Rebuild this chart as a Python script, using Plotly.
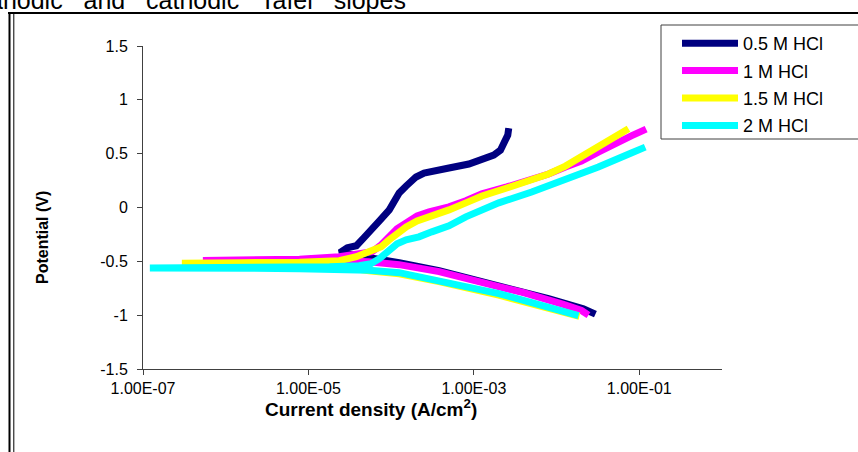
import plotly.graph_objects as go

# ---------------- data ----------------
series_names = ["0.5 M HCl", "1 M HCl", "1.5 M HCl", "2 M HCl"]
series_colors = ["#000080", "#FF00FF", "#FFFF00", "#00FFFF"]

# 0.5 M HCl : current density (A/cm2) and potential (V)
i_05 = [2.95e-2, 2.11e-2, 8.0e-3, 2.0e-3, 3.8e-4, 1.25e-4, 5.4e-5, 3.1e-5, 2.4e-5,
        2.95e-5, 3.8e-5, 4.7e-5, 5.9e-5, 7.4e-5, 9.5e-5, 1.25e-4, 1.52e-4, 2.0e-4,
        2.5e-4, 3.1e-4, 5.0e-4, 8.7e-4, 1.25e-3, 1.74e-3, 2.1e-3, 2.36e-3, 2.57e-3, 2.64e-3]
e_05 = [-0.99, -0.94, -0.846, -0.726, -0.587, -0.513, -0.467, -0.439, -0.42,
        -0.374, -0.355, -0.28, -0.207, -0.115, -0.022, 0.135, 0.2, 0.283,
        0.32, 0.339, 0.367, 0.404, 0.441, 0.487, 0.533, 0.598, 0.672, 0.737]

# 1 M HCl
i_1 = [2.43e-2, 2.0e-2, 1.21e-2, 8.0e-3, 4.0e-3, 2.0e-3, 8.0e-4, 3.8e-4, 1.25e-4, 5.4e-5,
       2.36e-5, 7.8e-6, 1.95e-6, 5.3e-7, 1.95e-6, 7.8e-6, 2.36e-5, 4.1e-5, 5.9e-5,
       7.6e-5, 9.5e-5, 1.18e-4, 1.52e-4, 2.06e-4, 2.87e-4, 3.8e-4, 5.0e-4, 8.0e-4,
       1.25e-3, 2.5e-3, 5.0e-3, 8.0e-3, 1.28e-2, 2.0e-2, 3.2e-2, 5.1e-2, 8.0e-2, 0.121]
e_1 = [-1.0, -0.957, -0.9, -0.856, -0.79, -0.735, -0.661, -0.596, -0.531, -0.504,
       -0.494, -0.494, -0.494, -0.492, -0.485, -0.48, -0.457, -0.439, -0.411,
       -0.346, -0.272, -0.198, -0.143, -0.078, -0.041, -0.022, 0.006, 0.062,
       0.126, 0.191, 0.256, 0.311, 0.376, 0.432, 0.515, 0.598, 0.665, 0.728]

# 1.5 M HCl
i_15 = [1.89e-2, 8.0e-3, 2.0e-3, 3.8e-4, 1.25e-4, 5.4e-5, 3.1e-5, 1.8e-5, 5.9e-6, 1.48e-6,
        2.95e-7, 1.48e-6, 7.8e-6, 2.36e-5, 3.8e-5, 5.9e-5, 7.6e-5, 9.5e-5, 1.18e-4,
        1.52e-4, 2.06e-4, 2.87e-4, 3.8e-4, 5.0e-4, 8.0e-4, 1.25e-3, 2.5e-3, 5.0e-3,
        8.0e-3, 1.28e-2, 2.0e-2, 3.2e-2, 4.9e-2, 7.4e-2]
e_15 = [-1.01, -0.934, -0.814, -0.689, -0.615, -0.587, -0.559, -0.531, -0.522, -0.518,
        -0.518, -0.513, -0.508, -0.494, -0.457, -0.393, -0.364, -0.3, -0.235,
        -0.18, -0.124, -0.087, -0.068, -0.022, 0.043, 0.107, 0.181, 0.256,
        0.311, 0.385, 0.469, 0.561, 0.644, 0.732]

# 2 M HCl
i_2 = [1.84e-2, 1.28e-2, 8.0e-3, 5.0e-3, 2.0e-3, 8.0e-4, 3.8e-4, 1.25e-4, 5.4e-5, 2.36e-5,
       7.8e-6, 1.95e-6, 4.9e-7, 1.21e-7, 1.95e-6, 1.8e-5, 4.1e-5, 5.7e-5, 7.2e-5, 9.5e-5,
       1.18e-4, 1.52e-4, 2.17e-4, 3.1e-4, 3.8e-4, 5.0e-4, 8.0e-4, 1.25e-3, 2.0e-3,
       5.0e-3, 1.28e-2, 3.2e-2, 8.0e-2, 0.118]
e_2 = [-1.004, -0.967, -0.92, -0.883, -0.8, -0.735, -0.68, -0.605, -0.582, -0.573,
       -0.569, -0.564, -0.563, -0.562, -0.559, -0.55, -0.541, -0.522, -0.476, -0.393,
       -0.337, -0.3, -0.272, -0.226, -0.198, -0.17, -0.087, -0.022, 0.043,
       0.144, 0.256, 0.376, 0.506, 0.561]

x_tick_vals = [1e-7, 1e-5, 1e-3, 1e-1]
x_tick_text = ["1.00E-07", "1.00E-05", "1.00E-03", "1.00E-01"]
y_tick_vals = [-1.5, -1, -0.5, 0, 0.5, 1, 1.5]
y_tick_text = ["-1.5", "-1", "-0.5", "0", "0.5", "1", "1.5"]

chart_title = "anodic\u00a0\u00a0\u00a0and\u00a0\u00a0\u00a0cathodic\u00a0\u00a0\u00a0Tafel\u00a0\u00a0\u00a0slopes"
x_title = "<b>Current density (A/cm<sup>2</sup>)</b>"
y_title = "<b>Potential (V)</b>"

# ---------------- layout geometry ----------------
W, H = 858, 452
L, R, T, B = 143, 136, 46, 83
PW, PH = W - L - R, H - T - B


def px(x):
    return (x - L) / PW


def py(y):
    return (H - B - y) / PH


FONT = "Liberation Sans, Arial, sans-serif"

fig = go.Figure()
for name, color, xs, ys in zip(series_names, series_colors,
                               [i_05, i_1, i_15, i_2], [e_05, e_1, e_15, e_2]):
    fig.add_trace(go.Scatter(x=xs, y=ys, mode="lines", name=name, legendgroup=name,
                             line=dict(color=color, width=7)))

axis_common = dict(showgrid=False, zeroline=False, showline=True, linecolor="#404040",
                   linewidth=1, ticks="outside", ticklen=5, tickcolor="#404040",
                   tickfont=dict(family=FONT, size=16, color="#000000"))

fig.update_xaxes(type="log", range=[-7, 0], tickvals=x_tick_vals, ticktext=x_tick_text,
                 **axis_common)
fig.update_yaxes(range=[-1.5, 1.5], tickvals=y_tick_vals, ticktext=y_tick_text,
                 ticklabelstandoff=6, **axis_common)

shapes = [
    # legend frame
    dict(type="rect", xref="paper", yref="paper", x0=px(661), x1=px(870), y0=py(139), y1=py(25),
         line=dict(color="#404040", width=1)),
    # outer chart frame
    dict(type="line", xref="paper", yref="paper", x0=px(8), x1=px(870), y0=py(13), y1=py(13),
         line=dict(color="#000000", width=2)),
    dict(type="line", xref="paper", yref="paper", x0=px(9.5), x1=px(9.5), y0=py(12), y1=py(470),
         line=dict(color="#000000", width=2)),
    dict(type="line", xref="paper", yref="paper", x0=px(13.8), x1=px(13.8), y0=py(14), y1=py(470),
         line=dict(color="#000000", width=1)),
]

annotations = [
    dict(text=chart_title, xref="paper", yref="paper", x=px(-13), y=py(16), xanchor="left",
         yanchor="bottom", showarrow=False, font=dict(family=FONT, size=25, color="#000000")),
    dict(text=x_title, xref="paper", yref="paper", x=px(371), y=py(408), xanchor="center",
         yanchor="middle", showarrow=False, font=dict(family=FONT, size=19, color="#000000")),
    dict(text=y_title, xref="paper", yref="paper", x=px(42), y=py(238), xanchor="center",
         yanchor="middle", textangle=-90, showarrow=False,
         font=dict(family=FONT, size=16, color="#000000")),
]

fig.update_layout(
    width=W, height=H,
    margin=dict(l=L, r=R, t=T, b=B, pad=0, autoexpand=False),
    paper_bgcolor="white", plot_bgcolor="white",
    font=dict(family=FONT, size=16, color="#000000"),
    showlegend=True,
    legend=dict(x=px(677), y=py(25), xanchor="left", yanchor="top",
                bgcolor="rgba(0,0,0,0)", borderwidth=0, itemwidth=56,
                tracegroupgap=1, font=dict(family=FONT, size=18, color="#000000")),
    shapes=shapes,
    annotations=annotations,
)

fig.write_html("out.html", config={"displayModeBar": False},
               post_script="document.body.style.margin='0px';")
